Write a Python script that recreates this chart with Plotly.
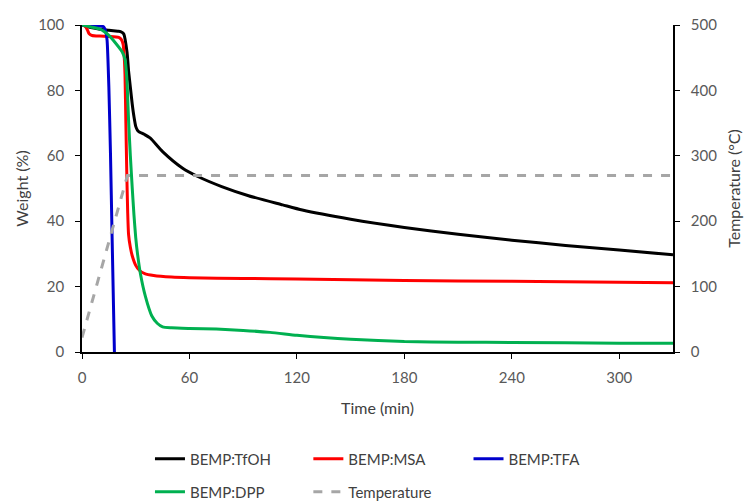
import plotly.graph_objects as go

# ---- data ----
t_tfoh = [0, 5, 10, 15, 20, 21.5, 23.3, 25.2, 26, 27, 28, 29, 30, 31, 32, 35, 38, 45, 56, 65, 78, 93, 112, 123, 150, 180, 210, 240, 270, 300, 330]
w_tfoh = [100, 99.2, 98.7, 98.4, 98.1, 98.0, 97.3, 91.4, 86, 81, 76, 72, 69, 67.8, 67.3, 66.5, 65.5, 61.3, 56.3, 53.6, 50.6, 47.8, 45, 43.4, 40.6, 38.1, 36.0, 34.2, 32.6, 31.2, 29.7]

t_msa = [0, 2, 3, 4, 5.6, 10, 15, 20.5, 22, 23, 23.5, 24, 24.5, 25, 25.5, 26, 27, 28, 30, 32, 35, 40, 50, 60, 90, 120, 180, 240, 300, 330]
w_msa = [100, 99.5, 98.5, 97.3, 96.8, 96.6, 96.5, 96.2, 95.5, 94, 91, 85, 70, 55, 43, 36, 32, 29.5, 26.5, 25, 24, 23.4, 22.9, 22.7, 22.5, 22.3, 21.9, 21.6, 21.3, 21.2]

t_tfa = [0, 5, 8, 10, 12, 13, 14, 15, 15.9, 16.8, 18.1]
w_tfa = [100, 100, 99.8, 99.7, 99.5, 98.5, 95.4, 81, 60.7, 35.3, 0]

t_dpp = [0, 5, 11, 15, 18.7, 22.4, 24, 25, 26, 27, 28, 29, 30, 31, 32.6, 35.4, 39, 42, 45, 50, 60, 75, 90, 105, 120, 135, 150, 180, 210, 240, 300, 330]
w_dpp = [100, 99.4, 98.5, 96.8, 94.5, 91.8, 89.5, 84, 71, 60, 50.6, 42, 35, 30, 24, 17, 11, 8.8, 7.7, 7.4, 7.2, 7.0, 6.6, 6.0, 5.1, 4.4, 3.9, 3.2, 3.0, 2.9, 2.7, 2.7]

t_temp = [0, 25.4, 330]
temp_c = [22, 270, 270]

x_ticks = [0, 60, 120, 180, 240, 300]

FONT = "Lato, Noto Sans, sans-serif"
TICKC = "#595959"
TITLEC = "#404040"

fig = go.Figure()
fig.add_trace(go.Scatter(x=t_tfoh, y=w_tfoh, mode="lines", name="BEMP:TfOH", showlegend=True,
                         line=dict(color="#000000", width=3, shape="spline", smoothing=0.6), legend="legend"))
fig.add_trace(go.Scatter(x=t_msa, y=w_msa, mode="lines", name="BEMP:MSA", showlegend=True,
                         line=dict(color="#FF0000", width=3, shape="spline", smoothing=0.6), legend="legend2"))
fig.add_trace(go.Scatter(x=t_tfa, y=w_tfa, mode="lines", name="BEMP:TFA", showlegend=True,
                         line=dict(color="#0000CC", width=3, shape="spline", smoothing=0.4), legend="legend3"))
fig.add_trace(go.Scatter(x=t_dpp, y=w_dpp, mode="lines", name="BEMP:DPP", showlegend=True,
                         line=dict(color="#00B050", width=3, shape="spline", smoothing=0.6), legend="legend4"))
fig.add_trace(go.Scatter(x=t_temp, y=temp_c, mode="lines", name="Temperature", showlegend=True,
                         line=dict(color="#A6A6A6", width=3, dash="dash"),
                         yaxis="y2", legend="legend5"))

def leg(x, y):
    return dict(x=x, y=y, orientation="h", xanchor="left", yanchor="middle",
                font=dict(family=FONT, size=15, color=TITLEC),
                bgcolor="rgba(0,0,0,0)", itemwidth=30)

col1, col2, col3 = 0.115, 0.383, 0.654
row1, row2 = -0.327, -0.428

axis_common = dict(showline=True, linecolor="black", linewidth=1.5,
                   ticks="outside", ticklen=5, tickcolor="black",
                   showgrid=False, zeroline=False,
                   tickfont=dict(family=FONT, size=15, color=TICKC))

fig.update_layout(
    width=748, height=503,
    showlegend=True,
    margin=dict(l=82, r=75, t=25, b=151, autoexpand=False),
    paper_bgcolor="white", plot_bgcolor="white",
    font=dict(family=FONT, size=15, color=TICKC),
    xaxis=dict(range=[0, 330], tickmode="array", tickvals=x_ticks,
               ticklabelstandoff=6,
               title=dict(text="Time (min)", font=dict(family=FONT, size=16, color=TITLEC), standoff=18),
               **axis_common),
    yaxis=dict(range=[0, 100], dtick=20, ticklabelstandoff=8,
               title=dict(text="Weight (%)", font=dict(family=FONT, size=16, color=TITLEC), standoff=6),
               **axis_common),
    yaxis2=dict(range=[0, 500], dtick=100, overlaying="y", side="right",
                ticklabelstandoff=8,
                title=dict(text="Temperature (°C)", font=dict(family=FONT, size=16, color=TITLEC), standoff=13),
                **axis_common),
    legend=leg(col1, row1),
    legend2=leg(col2, row1),
    legend3=leg(col3, row1),
    legend4=leg(col1, row2),
    legend5=leg(col2, row2),
)

fig.write_html("out.html")
